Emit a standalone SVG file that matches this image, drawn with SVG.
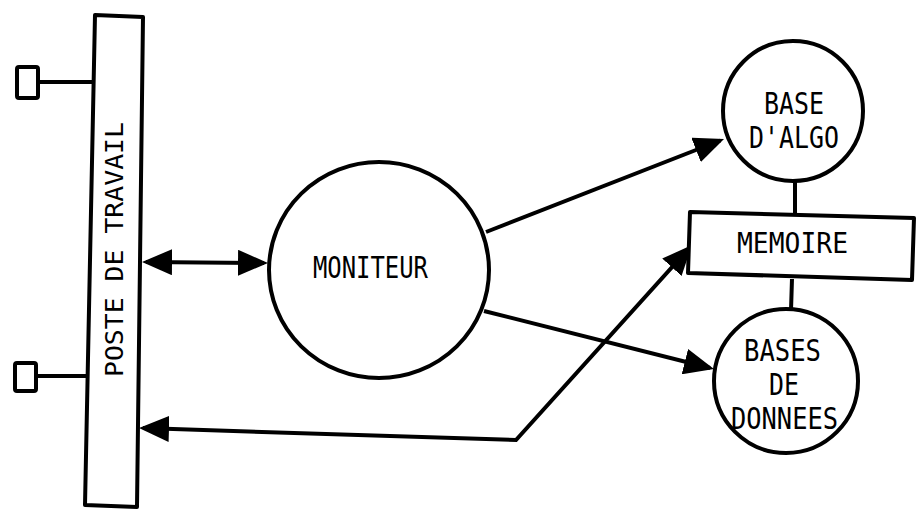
<svg xmlns="http://www.w3.org/2000/svg" width="917" height="512" viewBox="0 0 917 512">
<style>
.shape{fill:#fff;stroke:#000;stroke-width:4;stroke-linejoin:round}
.conn{fill:none;stroke:#000;stroke-width:4;stroke-linejoin:miter}
.lbl{font-family:"DejaVu Sans Mono","Liberation Mono",monospace;fill:#000;text-anchor:start}
</style>
<defs>
<marker id="ah" viewBox="0 0 30 26" refX="26" refY="13" markerWidth="30" markerHeight="26" markerUnits="userSpaceOnUse" orient="auto-start-reverse">
<path d="M0,0 L30,13 L0,26 z" fill="#000"/>
</marker>
</defs>
<rect width="917" height="512" fill="#fff"/>
<g id="connectors">
<line class="conn" x1="38" y1="82" x2="94" y2="82"/>
<line class="conn" x1="36" y1="376" x2="88" y2="376"/>
<line class="conn" x1="795" y1="180" x2="795" y2="214"/>
<line class="conn" x1="792" y1="279" x2="791" y2="310"/>
<line class="conn" x1="146" y1="262" x2="264" y2="263" marker-start="url(#ah)" marker-end="url(#ah)"/>
<line class="conn" x1="486" y1="232" x2="720.3" y2="140.5" marker-end="url(#ah)"/>
<line class="conn" x1="484" y1="311" x2="710.1" y2="368" marker-end="url(#ah)"/>
<polyline class="conn" points="143,428.1 516,440 689.3,248" marker-start="url(#ah)" marker-end="url(#ah)"/>
</g>
<g id="terminal1"><rect class="shape" x="17" y="67" width="21" height="31" rx="2"/></g>
<g id="terminal2"><rect class="shape" x="15" y="363" width="21" height="28" rx="2"/></g>
<g id="poste">
<polygon class="shape" points="95,15 143,17 137,507 85,505"/>
<text class="lbl" font-size="25" textLength="255" lengthAdjust="spacingAndGlyphs" transform="translate(123,377) rotate(-90)">POSTE DE TRAVAIL</text>
</g>
<g id="moniteur">
<ellipse class="shape" cx="379" cy="270" rx="110" ry="108"/>
<text class="lbl" x="313" y="278" font-size="31" textLength="115" lengthAdjust="spacingAndGlyphs">MONITEUR</text>
</g>
<g id="base-algo">
<circle class="shape" cx="793" cy="111" r="70"/>
<text class="lbl" x="764" y="114" font-size="30" textLength="60" lengthAdjust="spacingAndGlyphs">BASE</text>
<text class="lbl" x="749" y="148" font-size="30" textLength="90" lengthAdjust="spacingAndGlyphs">D'ALGO</text>
</g>
<g id="memoire">
<polygon class="shape" points="690,212 914,218 912,280 688,273"/>
<text class="lbl" x="737" y="253" font-size="29" textLength="111" lengthAdjust="spacingAndGlyphs">MEMOIRE</text>
</g>
<g id="bases-donnees">
<circle class="shape" cx="786" cy="381" r="72"/>
<text class="lbl" x="744" y="361" font-size="30" textLength="77" lengthAdjust="spacingAndGlyphs">BASES</text>
<text class="lbl" x="769" y="395" font-size="30" textLength="30" lengthAdjust="spacingAndGlyphs">DE</text>
<text class="lbl" x="731" y="429" font-size="30" textLength="107" lengthAdjust="spacingAndGlyphs">DONNEES</text>
</g>
</svg>
